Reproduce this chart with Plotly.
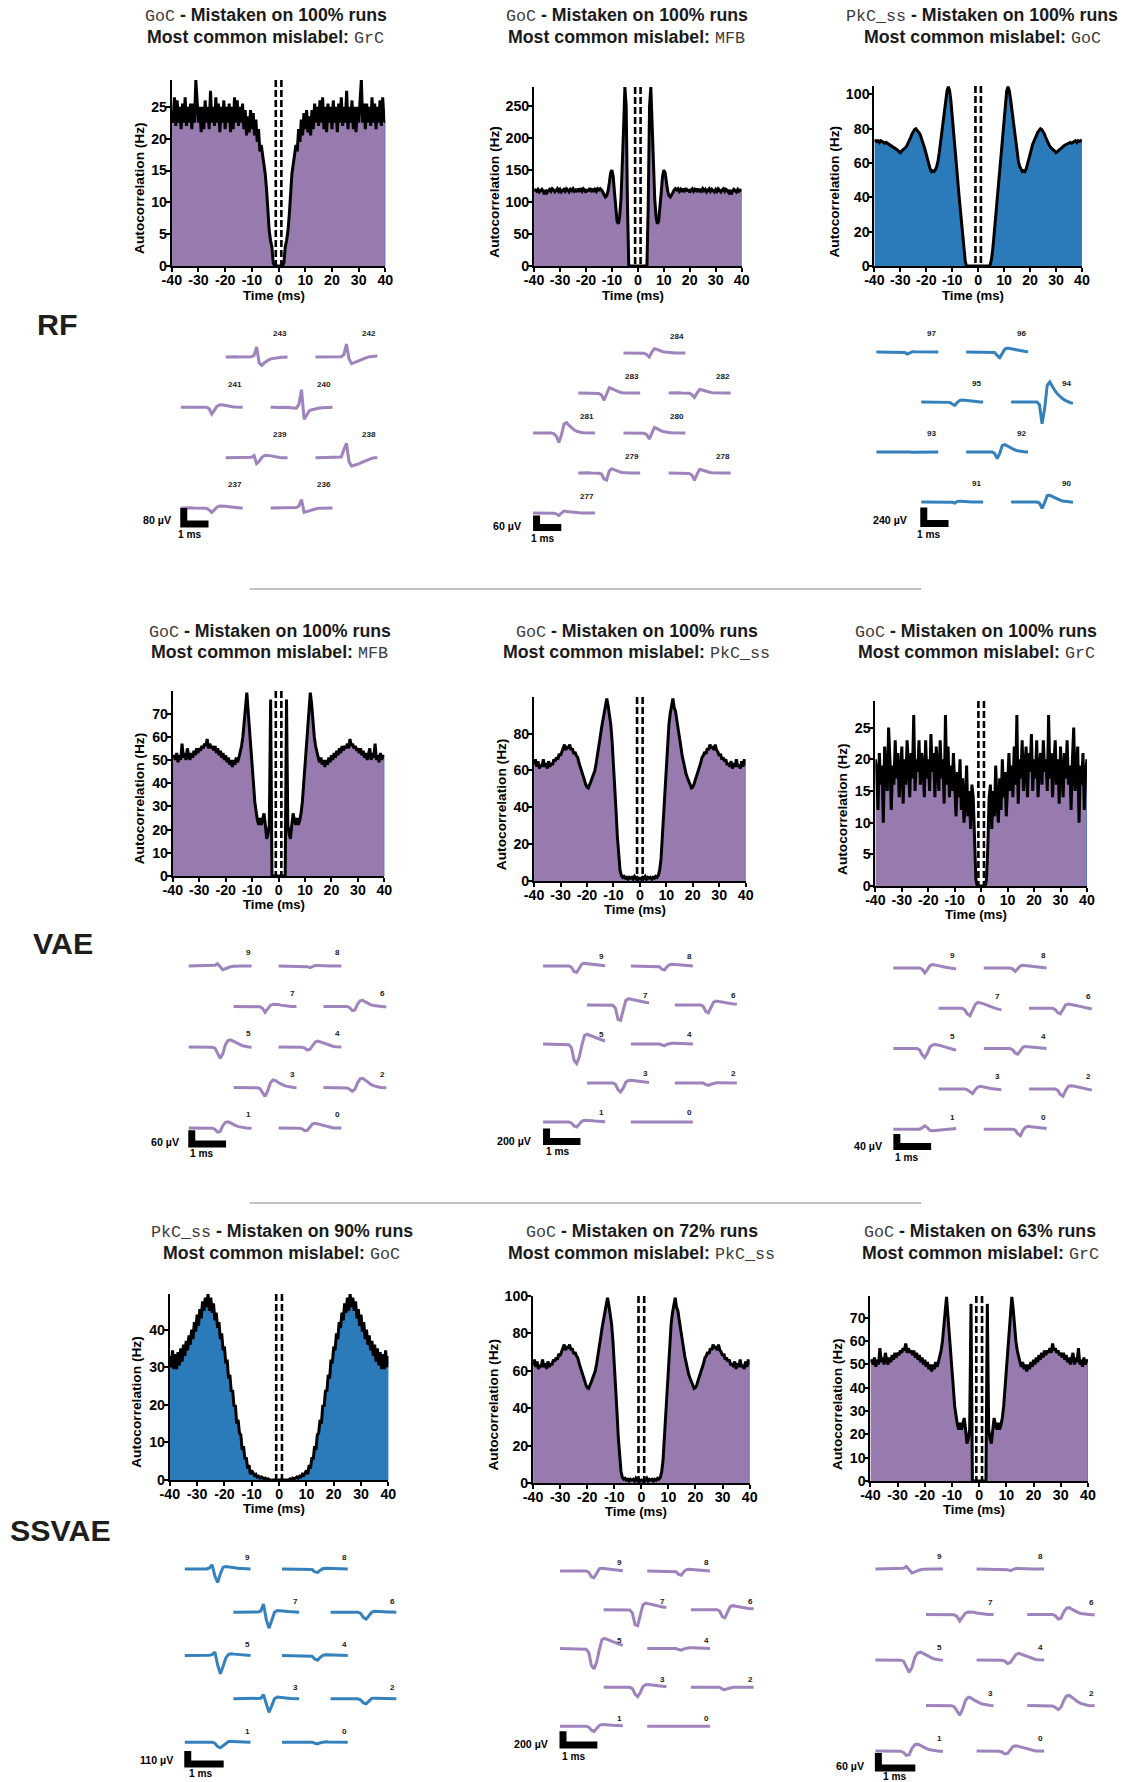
import numpy as np
import plotly.graph_objects as go

# Output size; the page adds the browser's default 8 px body margin around the plot div,
# so the page is a little larger than the figure and is viewed scaled to W x H.
W, H = 1129, 1782
PAGE_MARGIN = 8
K_H = (W + 2 * PAGE_MARGIN) / W
K_V = (H + 2 * PAGE_MARGIN) / H

# ---------------------------------------------------------------------------
# Autocorrelograms: one-sided values for lags 0 .. 40 ms in 0.5 ms bins (Hz).
# ---------------------------------------------------------------------------
ACG_BIN_MS = 0.5

ACG_RF_GOC_AS_GRC = [
    0, 0, 0, 0, 0.5, 3, 4, 5.5, 8, 12, 14.5, 16, 17.5, 19, 18, 21.5, 19.5, 23, 20.5, 24,
    21.5, 24.5, 21, 23.5, 20.5, 24.5, 21.5, 25.5, 22.5, 25, 22, 26, 22.5, 26.5, 21.5, 25, 21, 25.5, 22.5, 25,
    21.5, 26, 22.5, 25, 21, 25.5, 22.5, 26.5, 22, 25, 22.5, 27.5, 21.5, 25, 22.5, 26, 21.5, 25, 21, 25,
    22.5, 26.5, 29.2, 22.5, 25.5, 21.5, 25.5, 22.5, 25, 22, 26.5, 22.5, 25.5, 21.5, 25, 22.5, 26, 22, 26.5, 23,
    22.5]

ACG_RF_GOC_AS_MFB = [
    0, 0, 0, 0, 0, 0, 0, 0, 95, 250, 280, 215, 150, 105, 78, 66, 70, 88, 115, 140,
    150, 146, 130, 117, 110, 108, 111, 116, 119, 121, 119, 121, 117, 120, 116, 121, 118, 122, 117, 120,
    115, 119, 121, 117, 120, 118, 121, 116, 119, 117, 121, 118, 120, 116, 119, 121, 117, 120, 118, 116,
    120, 117, 121, 118, 116, 119, 121, 117, 120, 118, 115, 119, 112, 117, 120, 118, 116, 120, 117, 119,
    118]

ACG_RF_PKC_AS_GOC = [
    0, 0, 0, 0, 0, 0, 0, 0, 0, 0, 3, 8, 16, 25, 34, 43, 52, 61, 70, 79,
    88, 96, 102, 104.5, 102, 97, 91, 85, 79, 72, 66, 61, 58, 56, 55, 55.5, 55, 56.5, 59, 62,
    65, 68, 71, 73, 75, 77, 78, 79, 80, 79.5, 78.5, 77, 75, 73, 71.5, 70, 69, 68, 67.5, 67,
    66, 66.5, 67.5, 68, 68.5, 69.5, 70, 70.5, 71, 71, 71.5, 72, 71.5, 72, 72.5, 73, 72, 73, 72.5, 73,
    72.5]

# GoC unit shown for VAE (mislabel MFB) and SSVAE (mislabel GrC)
ACG_GOC_UNIT_A = [
    0, 0, 0, 0, 0, 0, 76, 22, 18, 16, 22, 27, 24, 22, 25, 22, 24, 27, 32, 40,
    47, 56, 64, 71, 79, 74, 66, 60, 56, 53, 51, 49, 51, 48, 50, 47, 50, 48, 51, 49,
    52, 50, 53, 51, 54, 52, 55, 53, 56, 54, 56, 55, 57, 55, 59, 56, 57, 55, 56, 54,
    55, 53, 55, 52, 54, 51, 53, 50, 52, 55, 50, 53, 51, 57, 50, 52, 49, 53, 50, 52,
    51]

# GoC unit shown for VAE and SSVAE (mislabel PkC_ss)
ACG_GOC_UNIT_B = [
    1.5, 1, 2, 1.5, 2.5, 1, 2, 1.5, 2, 1, 2, 1.5, 2.5, 2, 3, 6, 12, 24, 38, 52,
    65, 76, 85, 91, 95, 99, 94, 92, 87, 83, 78, 73, 68, 64, 60, 58, 56, 54, 52, 50.5,
    51, 52.5, 55, 57, 59, 62, 64, 67, 68, 70, 69, 72, 71, 74, 72, 73, 71, 74, 71, 70,
    68, 69, 66, 67, 65, 66, 63, 64, 62, 65, 61, 64, 62, 66, 62, 63, 61, 65, 62, 66,
    63]

ACG_VAE_GOC_AS_GRC = [
    0, 0, 0, 0, 1, 6, 14, 16, 9, 15, 11, 19, 13, 10, 17, 12, 20, 14, 18, 11,
    16, 21, 15, 19, 14, 22, 16, 27, 13, 20, 17, 23, 15, 19, 22, 14, 21, 18, 24, 15,
    20, 17, 23, 14, 19, 21, 16, 23, 18, 20, 15, 27, 17, 21, 14, 19, 23, 16, 20, 13,
    22, 18, 14, 21, 17, 23, 16, 19, 12, 20, 25, 15, 18, 22, 10, 19, 16, 21, 12, 18,
    20]

ACG_SSVAE_PKC_AS_GOC = [
    0, 0, 0, 0, 0, 0, 0, 0, 0.3, 0, 0.5, 0.3, 0.5, 0.8, 0.5, 1, 0.8, 1.5, 1.2, 2,
    2.5, 1.5, 4, 3, 6, 5.5, 9, 8, 12, 12.5, 16, 15, 20, 19.5, 24, 23.5, 28, 27, 32, 31,
    35.5, 34.5, 39, 37.5, 42, 40.5, 44.5, 42.5, 47, 44.5, 48.5, 45, 49.5, 46, 48.5, 45, 47.5, 43, 45.5, 41,
    44, 39.5, 42, 37.5, 40, 36, 38.5, 34.5, 37, 33, 36, 31.5, 35, 30.5, 34, 29.5, 33.5, 29.5, 34.5, 30,
    33]

X_TICKS = [-40, -30, -20, -10, 0, 10, 20, 30, 40]
X_TICK_TEXT = ['-40', '-30', '-20', '-10', '0', '10', '20', '30', '40']
REFRACTORY_MARK_MS = 1.05

# ---------------------------------------------------------------------------
# Mean waveforms (µV), 25 samples per channel.
# ---------------------------------------------------------------------------
WF_SAMPLES = 25

WF_RF_A_CH = [243, 242, 241, 240, 239, 238, 237, 236]
WF_RF_A = [
    [0, 1, 0, 0, 1, 0, 0, 1, 0, 1, 2, 8, 50, -30, -42, -28, -18, -12, -8, -5, -3, -2, -1, 0, 0],
    [0, 0, 1, 0, 0, 1, 0, 0, 1, 0, 2, 12, 65, -10, -33, -28, -22, -16, -11, -6, -2, 2, 4, 5, 5],
    [0, 0, 0, 1, 0, 0, 1, 0, 0, 1, 0, -6, -33, -15, 5, 12, 13, 10, 7, 5, 3, 2, 1, 0, 0],
    [0, 1, 0, -1, 0, 1, -1, 0, -2, -2, -4, 15, 88, -60, -35, -18, -12, -8, -5, -3, -2, -1, 0, 0, 0],
    [0, 0, 1, 0, 0, 0, 1, 0, 0, 1, 2, 10, -30, -18, 0, 10, 12, 10, 7, 4, 2, 1, 0, 0, 0],
    [0, 0, 0, 1, 0, 0, 0, 1, 0, 1, 3, 40, 72, -20, -42, -38, -35, -30, -24, -18, -12, -7, -3, 0, 0],
    [0, 1, 0, 0, 1, 0, 0, 1, 0, 0, -2, -10, -22, -10, 4, 10, 11, 9, 7, 5, 3, 2, 1, 0, 0],
    [0, 0, 1, 0, 0, 1, 0, 0, 1, 0, 2, 10, 42, -22, -18, -12, -8, -5, -3, -2, -1, 0, 0, 0, 0],
]

WF_RF_B_CH = [284, 283, 282, 281, 280, 279, 278, 277]
WF_RF_B = [
    [0, 0, 0, 1, 0, 0, 1, 0, -1, -8, -20, 5, 22, 18, 12, 8, 5, 3, 2, 1, 0, 0, 0, 0, 0],
    [0, 0, 1, 0, 0, 1, 0, 0, -2, -10, -36, -5, 27, 22, 15, 9, 5, 2, 0, 0, 0, 0, 0, 0, 0],
    [0, 1, 0, 0, 1, 0, 0, 1, -1, -8, -22, 0, 18, 15, 10, 6, 4, 2, 1, 0, 0, 0, 0, 0, 0],
    [0, 0, 0, 1, 0, 0, 0, 0, -3, -15, -47, -10, 45, 52, 38, 25, 15, 8, 4, 2, 1, 0, 0, 0, 0],
    [0, 0, 1, 0, 0, 1, 0, 0, -1, -8, -30, 0, 28, 22, 15, 9, 6, 3, 2, 1, 0, 0, 0, 0, 0],
    [0, 1, 0, 0, 1, 0, 0, 0, -1, -5, -30, -35, 10, 22, 16, 10, 6, 3, 1, 0, 0, 0, 0, 0, 0],
    [0, 0, 1, 0, 0, 0, 1, 0, -2, -10, -37, -5, 18, 15, 10, 6, 3, 1, 0, 0, 0, 0, 0, 0, 0],
    [0, 0, 0, 1, 0, 0, 1, 0, -1, -4, -13, 0, 10, 8, 6, 4, 3, 2, 1, 0, 0, 0, 0, 0, 0],
]

WF_RF_C_CH = [97, 96, 95, 94, 93, 92, 91, 90]
WF_RF_C = [
    [0, 0, 0, 0, 0, 0, 0, 0, 0, 0, 0, -5, -30, -10, 5, 3, 2, 1, 0, 0, 0, 0, 0, 0, 0],
    [0, 0, 0, 0, 0, 0, 0, 0, 0, 0, 0, -5, -50, -85, -20, 45, 60, 52, 42, 32, 24, 17, 11, 7, 4],
    [0, 0, 0, 0, 0, 0, 0, 0, 0, 0, 0, -5, -30, -50, -5, 25, 30, 25, 18, 12, 8, 5, 3, 1, 0],
    [0, 0, 0, 0, 0, 0, 0, 0, 0, 0, 0, -40, -325, -100, 250, 300, 230, 170, 120, 80, 50, 25, 5, -10, -20],
    [0, 0, 0, 0, 0, 0, 0, 0, 0, 0, 5, 10, 8, 0, -5, -5, -4, -3, -2, -1, 0, 0, 0, 0, 0],
    [0, 0, 0, 0, 0, 0, 0, 0, 0, 0, 0, -20, -100, -20, 100, 110, 90, 65, 45, 30, 18, 10, 5, 2, 0],
    [0, 0, 0, 0, 0, 0, 0, 0, 0, 0, 0, 0, -3, -15, 10, 12, 8, 5, 3, 1, 0, 0, 0, 0, 0],
    [0, 0, 0, 0, 0, 0, 0, 0, 0, 0, 0, -15, -95, -10, 95, 100, 80, 60, 42, 28, 16, 8, 2, -3, -5],
]

WF_MODEL_CH = [9, 8, 7, 6, 5, 4, 3, 2, 1, 0]

WF_GOC_UNIT_A = [
    [0, 0, 0, 0, 0, 0, 0, 0, 0, 1, 3, 10, -5, -16, -12, -6, -3, -1, 0, 0, 0, 0, 0, 0, 0],
    [0, 0, 0, 0, 0, 0, 0, 0, 0, 0, 0, -3, -7, -2, 2, 2, 1, 0, 0, 0, 0, 0, 0, 0, 0],
    [0, 0, 0, 0, 0, 0, 0, 0, 0, 0, -1, -8, -26, -10, 5, 10, 11, 9, 6, 4, 2, 1, 0, 0, 0],
    [0, 0, 0, 0, 0, 0, 0, 0, 0, 0, -5, -18, -15, 10, 25, 27, 20, 13, 8, 4, 2, 0, -1, -1, -1],
    [0, 0, 0, 0, 0, 0, 0, 0, 0, -1, -5, -30, -50, -30, 10, 28, 31, 26, 19, 13, 8, 4, 1, 0, -1],
    [0, 0, 0, 0, 0, 0, 0, 0, 0, -1, -5, -14, -10, 8, 22, 26, 22, 16, 11, 7, 4, 2, 1, 0, 0],
    [0, 0, 0, 0, 0, 0, 0, 0, 0, -1, -5, -25, -39, -15, 20, 33, 30, 22, 15, 10, 6, 3, 1, 0, -1],
    [0, 0, 0, 0, 0, 0, 0, 0, 0, -2, -8, -17, -8, 20, 38, 40, 32, 22, 14, 8, 4, 2, 0, -1, -1],
    [0, 0, 0, 0, 0, 0, 0, 0, 0, -1, -6, -18, -15, 10, 25, 27, 22, 15, 10, 6, 3, 1, 0, -1, -1],
    [0, 0, 0, 0, 0, 0, 0, 0, -1, -4, -12, -10, 5, 18, 21, 18, 13, 9, 6, 3, 1, 0, 0, 0, 0],
]

WF_GOC_UNIT_B = [
    [0, 0, 0, 0, 0, 0, 0, 0, 0, 0, 0, -20, -85, -100, -30, 30, 40, 35, 28, 22, 16, 12, 8, 5, 3],
    [0, 0, 0, 0, 0, 0, 0, 0, 0, 0, 0, -10, -50, -62, -10, 20, 26, 22, 17, 12, 8, 5, 3, 1, 0],
    [0, 0, 0, 0, 0, 0, 0, 0, 0, 0, -5, -50, -220, -235, -80, 70, 97, 88, 75, 64, 55, 48, 42, 38, 35],
    [0, 0, 0, 0, 0, 0, 0, 0, 0, 0, 0, -20, -100, -118, -30, 45, 60, 52, 42, 34, 27, 22, 18, 15, 13],
    [0, 0, 0, 0, 0, 0, 0, 0, 0, 0, -10, -60, -250, -300, -200, -20, 130, 150, 135, 115, 95, 80, 68, 58, 50],
    [0, 0, 0, 0, 0, 0, 0, 0, 0, 0, 0, 0, -15, -25, -5, 8, 10, 10, 8, 6, 4, 3, 2, 1, 0],
    [0, 0, 0, 0, 0, 0, 0, 0, 0, 0, 0, -20, -100, -138, -80, 10, 38, 41, 35, 28, 22, 17, 13, 10, 8],
    [0, 0, 0, 0, 0, 0, 0, 0, 0, 0, 0, 0, -25, -36, -20, -5, 2, 3, 3, 2, 1, 0, 0, 0, 0],
    [0, 0, 0, 0, 0, 0, 0, 0, 0, 0, 0, -15, -60, -77, -40, 10, 25, 26, 22, 18, 14, 11, 8, 6, 5],
    [0, 0, 0, 0, 0, 0, 0, 0, 0, 0, 0, 0, -3, -5, -3, 0, 1, 1, 1, 0, 0, 0, 0, 0, 0],
]

WF_VAE_GOC_GRC = [
    [0, 0, 0, 0, 0, 0, 0, 0, 0, 0, 0, -4, -16, -5, 8, 11, 10, 8, 6, 4, 2, 0, -1, -2, -3],
    [0, 0, 0, 0, 0, 0, 0, 0, 0, 0, 0, -3, -11, -2, 7, 9, 8, 7, 6, 5, 4, 3, 2, 1, 0],
    [0, 0, 0, 0, 0, 0, 0, 0, 0, 0, -5, -18, -24, -5, 12, 19, 18, 15, 12, 8, 5, 2, -1, -3, -5],
    [0, 0, 0, 0, 0, 0, 0, 0, 0, 0, -4, -14, -18, -2, 11, 14, 13, 11, 9, 7, 5, 3, 1, -1, -2],
    [0, 0, 0, 0, 0, 0, 0, 0, 0, 0, -4, -20, -29, -15, 5, 12, 13, 12, 10, 7, 4, 2, -1, -3, -5],
    [0, 0, 0, 0, 0, 0, 0, 0, 0, 0, 0, -4, -14, -18, -5, 5, 7, 6, 5, 4, 3, 2, 1, 0, 0],
    [0, 0, 0, 0, 0, 0, 0, 0, 0, 0, 0, -3, -10, -15, -3, 6, 8, 7, 5, 3, 1, 0, -1, -2, -3],
    [0, 0, 0, 0, 0, 0, 0, 0, 0, 0, 0, -5, -18, -24, -5, 8, 10, 9, 7, 5, 3, 1, -1, -2, -4],
    [0, 0, 0, 0, 0, 0, 0, 0, 0, 0, 0, 4, 11, 5, -4, -5, -4, -3, -2, -1, 0, 1, 1, 2, 2],
    [0, 0, 0, 0, 0, 0, 0, 0, 0, 0, 0, 0, -3, -15, -21, -3, 7, 9, 8, 7, 6, 5, 4, 3, 2],
]

WF_SSVAE_PKC_GOC = [
    [0, 0, 0, 0, 0, 0, 0, 0, 0, 8, 35, -60, -115, -40, 15, 20, 16, 12, 8, 6, 4, 3, 2, 1, 0],
    [0, 0, 0, 0, 0, 0, 0, 0, 0, 0, 0, -5, -25, -29, -10, 3, 5, 5, 4, 3, 2, 1, 0, 0, 0],
    [0, 0, 0, 0, 0, 0, 0, 0, 0, 2, 10, 70, -60, -135, -70, 0, 15, 15, 12, 9, 6, 4, 2, 1, 0],
    [0, 0, 0, 0, 0, 0, 0, 0, 0, 0, 0, -10, -45, -58, -25, 0, 8, 8, 6, 4, 3, 2, 1, 0, 0],
    [0, 0, 0, 0, 0, 0, 0, 0, 0, 2, 8, 30, -80, -155, -90, -20, 10, 15, 12, 9, 6, 4, 2, 1, 0],
    [0, 0, 0, 0, 0, 0, 0, 0, 0, 0, 0, -5, -30, -40, -15, 3, 6, 5, 4, 3, 2, 1, 0, 0, 0],
    [0, 0, 0, 0, 0, 0, 0, 0, 0, 1, 5, 35, -50, -115, -60, 0, 15, 14, 11, 8, 5, 3, 2, 1, 0],
    [0, 0, 0, 0, 0, 0, 0, 0, 0, 0, 0, -10, -35, -42, -15, 3, 6, 5, 4, 3, 2, 1, 0, 0, 0],
    [0, 0, 0, 0, 0, 0, 0, 0, 0, 0, 0, -10, -38, -48, -30, -5, 5, 6, 5, 4, 3, 2, 1, 0, 0],
    [0, 0, 0, 0, 0, 0, 0, 0, 0, 0, 0, 0, -10, -15, -5, 2, 3, 2, 1, 0, 0, 0, 0, 0, 0],
]

# ---------------------------------------------------------------------------
# Styling
# ---------------------------------------------------------------------------
PURPLE_FILL = '#987BAE'
BLUE_FILL = '#2B7BBA'
PURPLE_WF = '#9A7DBA'
BLUE_WF = '#2B7BBA'
EDGE_BLUE = '#4F78C6'
SANS = 'Liberation Sans'
MONO = 'Liberation Mono'

# Probe layouts (column, row) for each channel in listing order
SLOTS_RF_A = [(1, 0), (3, 0), (0, 1), (2, 1), (1, 2), (3, 2), (0, 3), (2, 3)]
SLOTS_RF_B = [(2, 0), (1, 1), (3, 1), (0, 2), (2, 2), (1, 3), (3, 3), (0, 4)]
SLOTS_RF_C = [(0, 0), (2, 0), (1, 1), (3, 1), (0, 2), (2, 2), (1, 3), (3, 3)]
SLOTS_MODEL = [(0, 0), (2, 0), (1, 1), (3, 1), (0, 2), (2, 2), (1, 3), (3, 3), (0, 4), (2, 4)]

# Panel placement below is in viewed pixels (top-left origin)
ACG_PANELS = [
    dict(acg=ACG_RF_GOC_AS_GRC, fill=PURPLE_FILL, box=(170, 80, 384, 266), ymax=29.2, dtick=5,
         cell='GoC', pct=100, mis='GrC', tx=264, ty=(15, 37)),
    dict(acg=ACG_RF_GOC_AS_MFB, fill=PURPLE_FILL, box=(533, 87, 741, 266), ymax=280, dtick=50,
         cell='GoC', pct=100, mis='MFB', tx=626, ty=(15, 37)),
    dict(acg=ACG_RF_PKC_AS_GOC, fill=BLUE_FILL, box=(874, 86, 1082, 266), ymax=104.8, dtick=20,
         cell='PkC_ss', pct=100, mis='GoC', tx=982, ty=(15, 37)),
    dict(acg=ACG_GOC_UNIT_A, fill=PURPLE_FILL, box=(171, 691, 383, 876), ymax=79.7, dtick=10,
         cell='GoC', pct=100, mis='MFB', tx=268, ty=(631, 652)),
    dict(acg=ACG_GOC_UNIT_B, fill=PURPLE_FILL, box=(533, 697, 745, 881), ymax=99.8, dtick=20,
         cell='GoC', pct=100, mis='PkC_ss', tx=636, ty=(631, 652)),
    dict(acg=ACG_VAE_GOC_AS_GRC, fill=PURPLE_FILL, box=(875, 701, 1087, 886), ymax=29.2, dtick=5,
         cell='GoC', pct=100, mis='GrC', tx=976, ty=(631, 652)),
    dict(acg=ACG_SSVAE_PKC_AS_GOC, fill=BLUE_FILL, box=(168, 1294, 387, 1480), ymax=49.5, dtick=10,
         cell='PkC_ss', pct=90, mis='GoC', tx=280, ty=(1232, 1254)),
    dict(acg=ACG_GOC_UNIT_B, fill=PURPLE_FILL, box=(532, 1296, 749, 1483), ymax=100, dtick=20,
         cell='GoC', pct=72, mis='PkC_ss', tx=641, ty=(1232, 1254)),
    dict(acg=ACG_GOC_UNIT_A, fill=PURPLE_FILL, box=(870, 1296, 1088, 1481), ymax=79.4, dtick=10,
         cell='GoC', pct=63, mis='GrC', tx=980, ty=(1232, 1254)),
]

WF_PANELS = [
    dict(wf=WF_RF_A, ch=WF_RF_A_CH, slots=SLOTS_RF_A, color=PURPLE_WF, span=2.5, sx=24.8, sy=0.20,
         origin=(179, 357), dx=45, dy=50.3, bar=(182, 524), bar_uv=80, uv_at=(172, 520), ms_at=(188, 534), lab=23),
    dict(wf=WF_RF_B, ch=WF_RF_B_CH, slots=SLOTS_RF_B, color=PURPLE_WF, span=2.5, sx=24.8, sy=0.20,
         origin=(532, 353), dx=45.3, dy=40, bar=(535.5, 527.5), bar_uv=60, uv_at=(523, 526), ms_at=(541, 538), lab=16),
    dict(wf=WF_RF_C, ch=WF_RF_C_CH, slots=SLOTS_RF_C, color=BLUE_WF, span=2.5, sx=24.8, sy=0.0667,
         origin=(876, 352), dx=45, dy=50, bar=(923.5, 523.5), bar_uv=240, uv_at=(910, 520), ms_at=(928, 534), lab=18),
    dict(wf=WF_GOC_UNIT_A, ch=WF_MODEL_CH, slots=SLOTS_MODEL, color=PURPLE_WF, span=1.83, sx=34.4, sy=0.228,
         origin=(187, 966), dx=45, dy=40.5, bar=(190, 1144), bar_uv=60, uv_at=(180, 1142), ms_at=(200, 1154), lab=13),
    dict(wf=WF_GOC_UNIT_B, ch=WF_MODEL_CH, slots=SLOTS_MODEL, color=PURPLE_WF, span=1.83, sx=34, sy=0.065,
         origin=(542, 966), dx=44, dy=39, bar=(545.5, 1141.5), bar_uv=200, uv_at=(533, 1141), ms_at=(556, 1152), lab=9),
    dict(wf=WF_VAE_GOC_GRC, ch=WF_MODEL_CH, slots=SLOTS_MODEL, color=PURPLE_WF, span=1.83, sx=34.4, sy=0.31,
         origin=(893, 968), dx=45.3, dy=40.3, bar=(896.5, 1146.5), bar_uv=40, uv_at=(885, 1146), ms_at=(906, 1158), lab=12),
    dict(wf=WF_SSVAE_PKC_GOC, ch=WF_MODEL_CH, slots=SLOTS_MODEL, color=BLUE_WF, span=1.83, sx=36, sy=0.118,
         origin=(183, 1569), dx=48.7, dy=43.3, bar=(186, 1764), bar_uv=110, uv_at=(174, 1760), ms_at=(199, 1774), lab=11),
    dict(wf=WF_GOC_UNIT_B, ch=WF_MODEL_CH, slots=SLOTS_MODEL, color=PURPLE_WF, span=1.83, sx=34.4, sy=0.068,
         origin=(559, 1571), dx=43.7, dy=38.8, bar=(562, 1745), bar_uv=200, uv_at=(550, 1744), ms_at=(573, 1757), lab=8),
    dict(wf=WF_GOC_UNIT_A, ch=WF_MODEL_CH, slots=SLOTS_MODEL, color=PURPLE_WF, span=1.83, sx=37, sy=0.25,
         origin=(875, 1569), dx=50.7, dy=45.5, bar=(878, 1768), bar_uv=60, uv_at=(867, 1766), ms_at=(894, 1777), lab=12),
]

ROW_LABELS = [('RF', 55, 324), ('VAE', 61, 943), ('SSVAE', 58, 1530)]
DIVIDERS_Y = [589, 1203]

# ---------------------------------------------------------------------------
fig = go.Figure()
axes_layout = {}
annotations = []
shapes = []
_n_axes = [0]


def fx(x):
    """viewed x pixel -> figure pixel"""
    return x * K_H - PAGE_MARGIN


def fy(y):
    """viewed y pixel -> figure pixel"""
    return y * K_V - PAGE_MARGIN


def px_x(x):
    return fx(x) / W


def px_y(y):
    return 1 - fy(y) / H


def fs(size):
    return size * K_H


def new_axes(xdomain, ydomain, xaxis, yaxis):
    _n_axes[0] += 1
    k = _n_axes[0]
    sfx = '' if k == 1 else str(k)
    axes_layout['xaxis' + sfx] = dict(domain=xdomain, anchor='y' + sfx, **xaxis)
    axes_layout['yaxis' + sfx] = dict(domain=ydomain, anchor='x' + sfx, **yaxis)
    return 'x' + sfx, 'y' + sfx


def paper_text(text, x, y, size, **kw):
    annotations.append(dict(text=text, x=px_x(x), y=px_y(y), xref='paper', yref='paper',
                            showarrow=False, xanchor=kw.pop('xanchor', 'center'),
                            yanchor='middle', font=dict(family=SANS, size=fs(size),
                                                        color=kw.pop('color', '#1a1a1a')), **kw))


axis_common = dict(showgrid=False, zeroline=False, showline=True, linecolor='black', linewidth=2,
                   ticks='outside', ticklen=4, tickwidth=1.5, tickcolor='black',
                   ticklabelstandoff=-4,
                   tickfont=dict(family=SANS, size=fs(14), color='black', weight='bold'),
                   fixedrange=True)

lags = np.arange(len(ACG_RF_GOC_AS_GRC)) * ACG_BIN_MS


def mono(s):
    return (f'<span style="font-family:{MONO};font-weight:normal;font-size:{fs(16.5):.1f}px;'
            f'color:#3c3c3c">{s}</span>')


for p in ACG_PANELS:
    x0, y0, x1, y1 = p['box']
    xa, ya = new_axes(
        [px_x(x0), px_x(x1)], [px_y(y1), px_y(y0)],
        dict(range=[-40, 40], tickvals=X_TICKS, ticktext=X_TICK_TEXT, **axis_common),
        dict(range=[0, p['ymax']], tick0=0, dtick=p['dtick'], **axis_common),
    )
    vals = np.asarray(p['acg'], dtype=float)
    x = np.concatenate([-lags[::-1], lags[1:]])
    y = np.concatenate([vals[::-1], vals[1:]])
    fig.add_trace(go.Scatter(x=x, y=y, mode='lines', fill='tozeroy', fillcolor=p['fill'],
                             line=dict(width=0), xaxis=xa, yaxis=ya, hoverinfo='skip'))
    fig.add_trace(go.Scatter(x=[40, 40], y=[0, vals[-1]], mode='lines',
                             line=dict(color=EDGE_BLUE, width=1.6), xaxis=xa, yaxis=ya, hoverinfo='skip'))
    fig.add_trace(go.Scatter(x=x, y=y, mode='lines', line=dict(color='black', width=3),
                             xaxis=xa, yaxis=ya, hoverinfo='skip'))
    for xm in (-REFRACTORY_MARK_MS, REFRACTORY_MARK_MS):
        shapes.append(dict(type='line', xref=xa, yref=ya + ' domain', x0=xm, x1=xm, y0=1, y1=0,
                           line=dict(color='black', width=2.6, dash='7px,3px'), layer='above'))

    # titles
    paper_text(f"{mono(p['cell'])}<b> - Mistaken on {p['pct']}% runs</b>", p['tx'], p['ty'][0], 17.5)
    paper_text(f"<b>Most common mislabel: </b>{mono(p['mis'])}", p['tx'], p['ty'][1], 17.5)
    # axis titles
    paper_text('<b>Time (ms)</b>', (x0 + x1) / 2 - 5, y1 + 29, 13, color='black')
    off = 40 if p['ymax'] >= 100 else 33
    annotations.append(dict(text='<b>Autocorrelation (Hz)</b>', x=px_x(x0 - off), y=px_y((y0 + y1) / 2 + 15),
                            xref='paper', yref='paper', showarrow=False, textangle=-90,
                            xanchor='center', yanchor='middle',
                            font=dict(family=SANS, size=fs(13.5), color='black')))

for p in WF_PANELS:
    ox, oy = p['origin']
    sx, sy = p['sx'] * K_H, p['sy'] * K_V          # figure pixels per ms / per µV
    hidden = dict(visible=False, fixedrange=True, showgrid=False, zeroline=False)
    xa, ya = new_axes([0, 1], [0, 1],
                      dict(range=[(0 - fx(ox)) / sx, (W - fx(ox)) / sx], **hidden),
                      dict(range=[(fy(oy) - H) / sy, fy(oy) / sy], **hidden))
    t = np.linspace(0, p['span'], WF_SAMPLES)
    for ch, wf, (c, r) in zip(p['ch'], p['wf'], p['slots']):
        xo = c * p['dx'] / p['sx']
        yo = -r * p['dy'] / p['sy']
        fig.add_trace(go.Scatter(x=t + xo, y=np.asarray(wf, dtype=float) + yo, mode='lines',
                                 line=dict(color=p['color'], width=3), opacity=0.95,
                                 xaxis=xa, yaxis=ya, hoverinfo='skip'))
        annotations.append(dict(text=f'<b>{ch}</b>', x=xo + p['span'], y=yo, xref=xa, yref=ya,
                                yshift=p['lab'] * K_V, xshift=1, xanchor='right', yanchor='middle',
                                showarrow=False, font=dict(family=SANS, size=fs(8), color='#222')))
    # scale bar
    bx = (p['bar'][0] - ox) / p['sx']
    by = (oy - p['bar'][1]) / p['sy']
    fig.add_trace(go.Scatter(x=[bx, bx, bx + 1], y=[by + p['bar_uv'], by, by], mode='lines',
                             line=dict(color='black', width=7), xaxis=xa, yaxis=ya, hoverinfo='skip'))
    paper_text(f"<b>{p['bar_uv']} µV</b>", p['uv_at'][0], p['uv_at'][1], 10.5, xanchor='right', color='black')
    paper_text('<b>1 ms</b>', p['ms_at'][0], p['ms_at'][1], 10, color='black')

for name, x, y in ROW_LABELS:
    paper_text(f'<b>{name}</b>', x, y, 30, color='#1e1e1e')

for yd in DIVIDERS_Y:
    shapes.append(dict(type='line', xref='paper', yref='paper', x0=px_x(248), x1=px_x(921),
                       y0=px_y(yd), y1=px_y(yd), line=dict(color='#ADADAD', width=1.5)))

fig.update_layout(
    width=W, height=H, margin=dict(l=0, r=0, t=0, b=0),
    paper_bgcolor='white', plot_bgcolor='rgba(0,0,0,0)', showlegend=False,
    annotations=annotations, shapes=shapes, **axes_layout,
)

fig.write_html('out.html')
